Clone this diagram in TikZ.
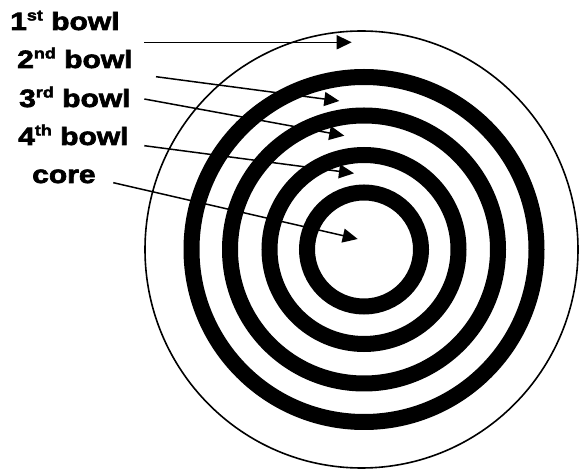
\documentclass[tikz,border=0pt]{standalone}
\usepackage{fontspec}
\usetikzlibrary{arrows.meta}
\newfontfamily\lblfont{Liberation Sans Bold}[FakeStretch=1.2,FakeBold=2.6]
\newcommand\supr[1]{\raisebox{9.5pt}{\fontsize{15}{15}\selectfont #1}}
\begin{document}
\begin{tikzpicture}[x=1pt,y=-1pt,
  lbl/.style={anchor=base west,inner sep=0pt,font=\lblfont\fontsize{25}{30}\selectfont},
  ring/.style={line width=16pt},
  pointer/.style={line width=1.5pt,-{Triangle[length=15pt,width=14pt]}}]
\useasboundingbox (0,0) rectangle (579,470);
\fill[white] (0,0) rectangle (579,470);
\coordinate (c) at (364,249.5);
\draw[line width=1.6pt] (361.5,249.5) ellipse [x radius=216.5, y radius=218.5];
\foreach \r in {172.5,134,94.5,57} \draw[ring] (c) circle[radius=\r];
\node[lbl] (l1) at (10,30) {1\supr{st} bowl};
\node[lbl] (l2) at (17,68) {2\supr{nd} bowl};
\node[lbl] (l3) at (19,107) {3\supr{rd} bowl};
\node[lbl] (l4) at (18,145) {4\supr{th} bowl};
\node[lbl] (l5) at (32,183) {core};
\coordinate (s1) at (144.3,42.3); \coordinate (t1) at (351.7,42.3);
\coordinate (s2) at (156,76.7);   \coordinate (t2) at (339.3,101);
\coordinate (s3) at (144.3,99);   \coordinate (t3) at (344.3,135.7);
\coordinate (s4) at (144.3,145.7);\coordinate (t4) at (354,173.3);
\coordinate (s5) at (113.3,182.7);\coordinate (t5) at (357.7,239);
\foreach \i in {1,...,5} \draw[pointer] (s\i) -- (t\i);
\end{tikzpicture}
\end{document}
